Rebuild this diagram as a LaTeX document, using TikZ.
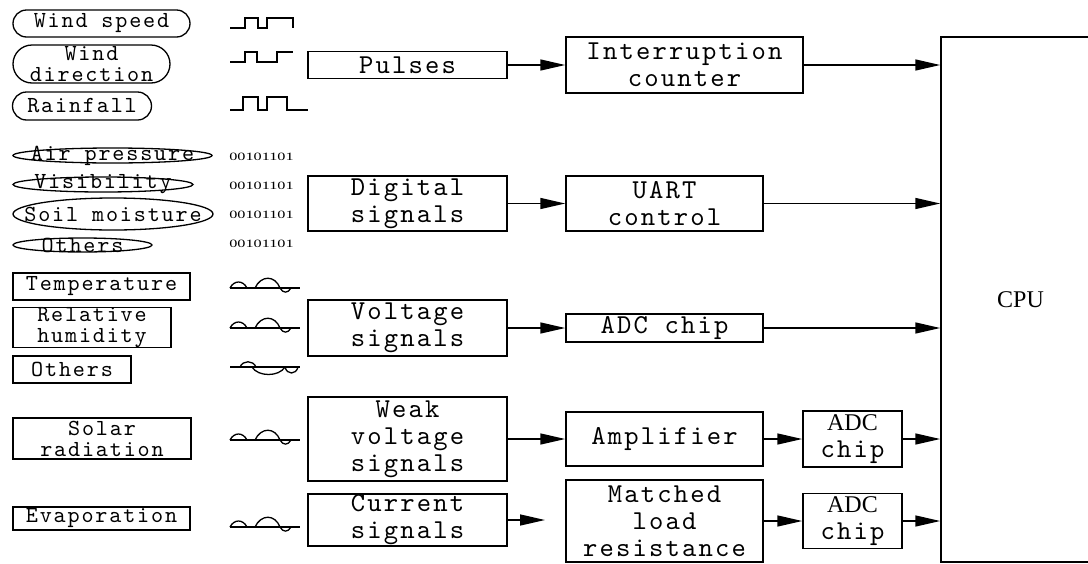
\documentclass[tikz,border=0pt]{standalone}
\usepackage{fontspec}
\usepackage{tikz}
\usetikzlibrary{arrows.meta,shapes.geometric,shapes.misc}
\newfontfamily\boxface{lmmono10-regular.otf}[LetterSpace=8]
\newfontfamily\serifface{Liberation Serif}
\newfontfamily\bitface[FakeStretch=1.45]{Liberation Serif}

\tikzset{
  analog/.pic={
    \draw (0,0) -- (70,0);
    \draw (0,0) .. controls (4,-8) and (13,-8) .. (17,0);
    \draw (25,0) .. controls (31,-13) and (45,-13) .. (50,0);
    \draw (50,0) .. controls (53,5.5) and (58,5.5) .. (61,0);
  },
  analogalt/.pic={
    \draw (0,0) -- (70,0);
    \draw (10,0) .. controls (13,-7) and (23,-7) .. (26,0);
    \draw (22,0) .. controls (28,10) and (49,10) .. (55,0);
    \draw (55,0) .. controls (57,8) and (66,8) .. (68,0);
  }
}

\begin{document}
\begin{tikzpicture}[x=1pt,y=-1pt,>={Triangle[length=25pt,width=11pt]}]
            \useasboundingbox (0,0) rectangle (1088,563);
            % sensors
            \begin{scope}[every node/.style={draw,line width=1.3pt,inner sep=0pt,align=center,font=\boxface\fontsize{23}{21}\selectfont},
                          every label/.style={draw=none}]
                \node[rounded rectangle,minimum width=177pt,minimum height=27pt,label={center:Wind speed}] (wspeed) at (101.5,23.5) {};
                \node[rounded rectangle,minimum width=157pt,minimum height=38pt,label={center:Wind\\direction}] (wdir) at (91.5,64) {};
                \node[rounded rectangle,minimum width=139pt,minimum height=28pt,label={center:Rainfall}] (rain) at (82,106) {};

                \node[ellipse,minimum width=199pt,minimum height=15pt,label={center:Air pressure}] (press) at (112.5,155.5) {};
                \node[ellipse,minimum width=180pt,minimum height=15pt,label={center:Visibility}] (vis) at (103,184.5) {};
                \node[ellipse,minimum width=200pt,minimum height=32pt,label={center:Soil moisture}] (soil) at (113,214) {};
                \node[ellipse,minimum width=139pt,minimum height=14pt,label={center:Others}] (othdig) at (82.5,245) {};

                \node[minimum width=177pt,minimum height=27pt] (temp) at (101.5,286.5) {Temperature};
                \node[minimum width=158pt,minimum height=39pt] (hum) at (92,327.5) {Relative\\humidity};
                \node[minimum width=118pt,minimum height=27pt] (othvolt) at (72,369.5) {Others};
                \node[minimum width=178pt,minimum height=41pt] (solar) at (102,438.5) {Solar\\radiation};
                \node[minimum width=177pt,minimum height=23pt] (evap) at (101.5,518.5) {Evaporation};
            \end{scope}

            % signal shapes
            \begin{scope}[line width=1.3pt]
                \draw (230,28) -- (245,28) -- (245,18) -- (258,18) -- (258,28) -- (267,28) -- (267,18) -- (293,18) -- (293,28);
                \draw (230,62) -- (245,62) -- (245,52) -- (257,52) -- (257,62) -- (277,62) -- (277,52) -- (293,52);
                \draw (230,110) -- (243,110) -- (243,97) -- (258,97) -- (258,110) -- (267,110) -- (267,97) -- (287,97) -- (287,110) -- (308,110);

                \pic at (230,288) {analog};
                \pic at (230,328) {analog};
                \pic at (230,367) {analogalt};
                \pic at (230,440) {analog};
                \pic at (230,527) {analog};
            \end{scope}
            \begin{scope}[every node/.style={font=\bitface\fontsize{11.2}{12}\selectfont,inner sep=0pt}]
                \node (bits1) at (261.5,157) {00101101};
                \node (bits2) at (261.5,186) {00101101};
                \node (bits3) at (261.5,215) {00101101};
                \node (bits4) at (261.5,244) {00101101};
            \end{scope}

            % processing blocks
            \begin{scope}[every node/.style={draw,line width=1.5pt,inner sep=0pt,align=center,font=\boxface\fontsize{27.3}{27}\selectfont}]
                \node[minimum width=199pt,minimum height=27pt] (pulses) at (407.5,65) {Pulses};
                \node[minimum width=199pt,minimum height=55pt] (digital) at (407.5,203.5) {Digital\\signals};
                \node[minimum width=199pt,minimum height=56pt] (voltage) at (407.5,328) {Voltage\\signals};
                \node[minimum width=199pt,minimum height=84pt] (weak) at (407.5,439) {Weak\\voltage\\signals};
                \node[minimum width=199pt,minimum height=52pt] (current) at (407.5,520) {Current\\signals};

                \node[minimum width=237pt,minimum height=56pt] (intr) at (684.5,65) {Interruption\\counter};
                \node[minimum width=197pt,minimum height=55pt] (uart) at (664.5,203.5) {UART\\control};
                \node[minimum width=197pt,minimum height=28pt] (adc) at (664.5,328) {ADC chip};
                \node[minimum width=197pt,minimum height=54pt] (amp) at (664.5,439) {Amplifier};
                \node[minimum width=197pt,minimum height=82pt] (match) at (664.5,521) {Matched\\load\\resistance};

                \node[minimum width=99pt,minimum height=56pt] (adcamp) at (852.5,439) {{\serifface\fontsize{24}{27}\selectfont ADC}\\chip};
                \node[minimum width=99pt,minimum height=55pt] (adcmatch) at (852.5,521) {{\serifface\fontsize{24}{27}\selectfont ADC}\\chip};

                \node[minimum width=159pt,minimum height=525pt,font=\serifface\fontsize{24}{24}\selectfont] (cpu) at (1020.5,299.5) {CPU};
            \end{scope}
            \coordinate (curend) at (545,520);

            \begin{scope}[every edge/.style={draw,line width=1.5pt}]
                \path [->] (pulses) edge (intr);
                \path [->] (digital) edge (uart);
                \path [->] (voltage) edge (adc);
                \path [->] (weak) edge (amp);
                \path [->] (current) edge (curend);

                \path [->] (amp) edge (adcamp);
                \path [->] (match) edge (adcmatch);

                \path [->] (intr) edge (intr -| cpu.west);
                \path [->] (uart) edge (uart -| cpu.west);
                \path [->] (adc) edge (adc -| cpu.west);
                \path [->] (adcamp) edge (adcamp -| cpu.west);
                \path [->] (adcmatch) edge (adcmatch -| cpu.west);
            \end{scope}
        \end{tikzpicture}
\end{document}
